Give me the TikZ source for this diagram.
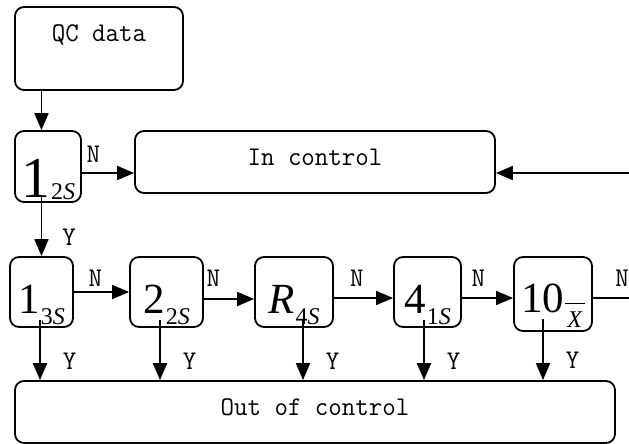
\documentclass[tikz,border=0pt]{standalone}
\usepackage{fontspec}
\setmainfont{Liberation Serif}
\newfontfamily\labelfont[FakeStretch=0.97]{Latin Modern Mono}
\usetikzlibrary{arrows.meta}

% main symbol with a lowered subscript
\newcommand{\qcrule}[3][11pt]{#2\kern1pt\raisebox{-#1}{\fontsize{24}{24}\selectfont #3}}

\tikzset{
  box/.style={draw, line width=1.8pt, rounded corners=9pt, inner sep=0pt},
  textbox/.style={box, font=\labelfont\fontsize{27}{27}\selectfont, text height=12pt, text depth=6pt, minimum height=62pt},
  rulebox/.style={box, font=\fontsize{43}{43}\selectfont, text height=54pt, text depth=12pt, minimum height=70pt},
  arr/.style={line width=1.8pt, -{Triangle[length=17pt,width=14pt]}},
  lbl/.style={font=\labelfont\fontsize{27}{27}\selectfont, inner sep=0pt},
}

\begin{document}
\begin{tikzpicture}[x=1pt, y=-1pt]
    \useasboundingbox (0,0) rectangle (629,444);
    \clip (0,0) rectangle (629,444);

    \node[box, font=\labelfont\fontsize{27}{27}\selectfont, text height=18pt, text depth=31pt,
      minimum width=168pt, minimum height=83pt] (qc) at (99,48.5) {QC data};
    \node[box, font=\fontsize{58}{58}\selectfont, text height=64pt, text depth=3pt,
      minimum width=66pt, minimum height=71pt] (r12) at (48,166.5) {\qcrule[2pt]{1}{2\textit{S}}};
    \node[textbox, minimum width=360pt] (inctrl) at (315,162) {In control};

    \node[rulebox, minimum width=63pt] (r13) at (41.5,292) {\qcrule{1}{3\textit{S}}};
    \node[rulebox, minimum width=73pt] (r22) at (166.5,292) {\qcrule{2}{2\textit{S}}};
    \node[rulebox, minimum width=78pt] (rR4) at (294,292) {\qcrule{\textit{R}}{4\textit{S}}};
    \node[rulebox, minimum width=67pt] (r41) at (427.5,292) {\qcrule{4}{1\textit{S}}};
    \node[rulebox, text height=52pt, text depth=16pt, minimum width=78pt, minimum height=74pt] (r10) at (553,294)
      {10\kern1pt\rlap{\rule[8.5pt]{20pt}{1pt}}\makebox[20pt]{\raisebox{-15pt}{\fontsize{24}{24}\selectfont\textit{X}}}};

    \node[textbox, minimum width=600pt] (out) at (315,412) {Out of control};

    \coordinate (eI) at (629,173);
    \coordinate (eR) at (629,298);

    % top column
    \path (qc.south -| r13) edge[arr] (r12.north -| r13);
    \path ([yshift=7pt]r12.south -| r13) edge[arr] node[lbl, right=20pt, pos=0.69] {Y} (r13.north);
    \path ([yshift=-6.5pt]r12.east) edge[arr] node[lbl, above=10pt, pos=0.22] {N} ([yshift=-11pt]inctrl.west);
    \path (eI) edge[arr] ([yshift=-11pt]inctrl.east);

    % rule chain
    \path (r13) edge[arr] node[lbl, above=5pt, pos=0.39] {N} (r22);
    \path ([yshift=-7pt]r22.east) edge[arr] node[lbl, above=12pt, pos=0.19] {N} ([yshift=-7pt]rR4.west);
    \path ([yshift=-6pt]rR4.east) edge[arr] node[lbl, above=11pt, pos=0.39] {N} ([yshift=-6pt]r41.west);
    \path ([yshift=-6pt]r41.east) edge[arr] node[lbl, above=11pt, pos=0.32] {N} ([yshift=-4pt]r10.west);
    \path ([yshift=-4pt]r10.east) edge[line width=1.8pt] node[lbl, above=11pt, pos=0.81] {N} (eR);

    \foreach \n/\dx/\dy in {r13/-1.5/8, r22/-6.5/8, rR4/9/8, r41/-3.5/8, r10/-10/13}
    {
      \path ([xshift=\dx pt, yshift=\dy pt]\n.south) edge[arr] node[lbl, right=22pt, pos=0.68] {Y}
        ([xshift=\dx pt]\n.south |- out.north);
    };
\end{tikzpicture}
\end{document}
